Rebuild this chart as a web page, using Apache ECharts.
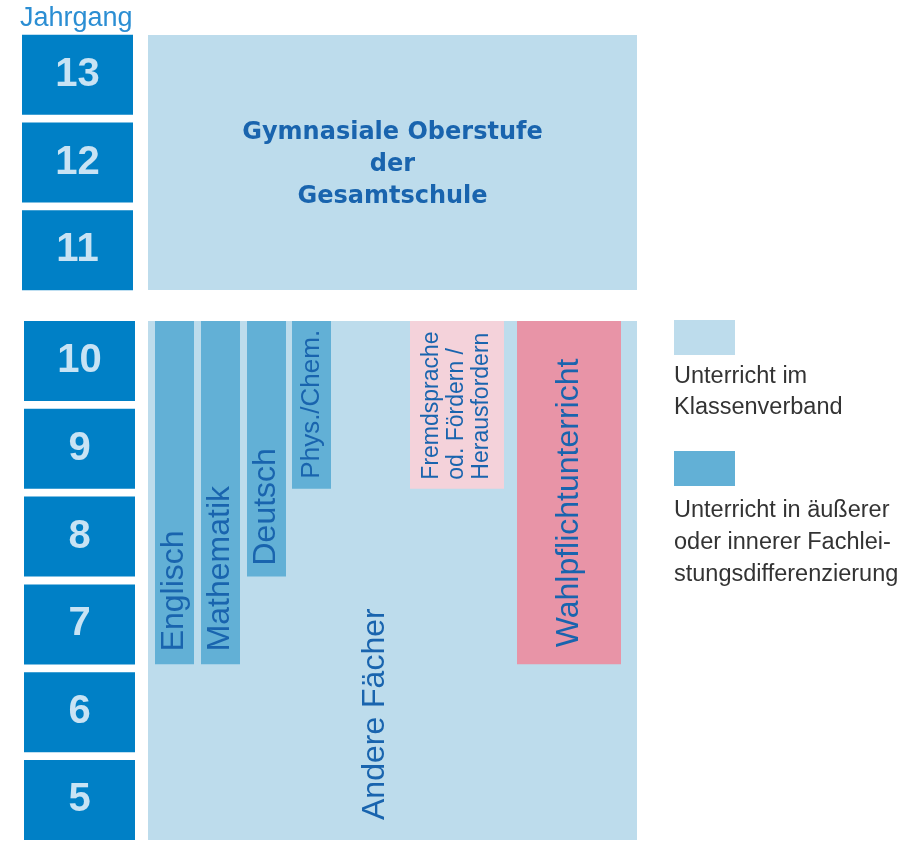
<!DOCTYPE html>
<html>
<head>
<meta charset="utf-8">
<title>Jahrgang</title>
<script src="https://cdn.jsdelivr.net/npm/echarts@6/dist/echarts.min.js"></script>
<style>
  html, body { margin: 0; padding: 0; background: #fff; overflow: hidden; }
  #chart { width: 919px; height: 850px; }
</style>
</head>
<body>
<div id="chart"></div>
<script>
// Jahrgänge (Achsen)
const gradesUpper = ['11', '12', '13'];
const gradesLower = ['5', '6', '7', '8', '9', '10'];

// Klassenverband-Blöcke: von Jahrgang .. bis Jahrgang
const blockNames = ['Gymnasiale Oberstufe\nder\nGesamtschule', 'Andere Fächer'];
const blockFrom = [11, 5];
const blockTo = [13, 10];

// Fächer in der Sek I
const subjects = ['Englisch', 'Mathematik', 'Deutsch', 'Phys./Chem.', 'Fremdsprache\nod. Fördern /\nHerausfordern', 'Wahlpflichtunterricht'];
const subjectFrom = [7, 7, 8, 9, 9, 7];
const subjectTo = [10, 10, 10, 10, 10, 10];
const subjectType = ['diff', 'diff', 'diff', 'diff', 'foerder', 'wahl'];

const legendNames = ['Unterricht im\nKlassenverband', 'Unterricht in äußerer\noder innerer Fachlei-\nstungsdifferenzierung'];

// --- Layout / Stil ---
const C = {
  box: '#0080c6',
  boxText: '#c8e3f4',
  klasse: '#bddcec',
  diff: '#62b0d6',
  foerder: '#f4d2da',
  wahl: '#e894a7',
  text: '#1964ae',
  head: '#2b8ed3',
  legend: '#333333'
};
// Spalten der Fächer in x-Achsen-Einheiten (0..489 = Breite des Blocks)
const colLayout = [[7, 46], [53, 92], [99, 138], [144, 183], [262, 356], [369, 473]];
const labelSize = [32, 32, 32, 26, 23, 32];
const labelPad = [13, 13, 11, 10, 9, 17];
const INSET = 4;
const FONT = '"Liberation Sans", Arial, sans-serif';

function gradeAxis(grades, gridIndex, margin) {
  return {
    type: 'category',
    gridIndex: gridIndex,
    data: grades,
    axisLine: { show: false },
    axisTick: { show: false },
    splitLine: { show: false },
    axisLabel: {
      interval: 0,
      margin: margin,
      formatter: v => '{b|' + v + '}',
      rich: {
        b: {
          width: 111, height: 80, lineHeight: 80, align: 'center',
          backgroundColor: C.box, color: C.boxText,
          fontSize: 40, fontWeight: 'bold', fontFamily: FONT
        }
      }
    }
  };
}

function span(api, grades, from, to) {
  const band = api.size([0, 1])[1];
  const lo = grades.indexOf(String(from));
  const hi = grades.indexOf(String(to));
  return {
    bottom: api.coord([0, lo])[1] + band / 2 - INSET,
    top: api.coord([0, hi])[1] - band / 2 + INSET
  };
}

function renderBlock(i, api) {
  const grades = i === 0 ? gradesUpper : gradesLower;
  const s = span(api, grades, blockFrom[i], blockTo[i]);
  const x0 = api.coord([0, 0])[0];
  const x1 = api.coord([489, 0])[0];
  const rect = {
    type: 'rect',
    shape: { x: x0, y: s.top, width: x1 - x0, height: s.bottom - s.top },
    style: { fill: C.klasse }
  };
  let label;
  if (i === 0) {
    label = {
      type: 'text',
      x: (x0 + x1) / 2, y: (s.top + s.bottom) / 2 + 2,
      style: {
        text: blockNames[i], fill: C.text, font: 'bold 24px "DejaVu Sans", sans-serif',
        align: 'center', verticalAlign: 'middle', lineHeight: 32
      }
    };
  } else {
    label = {
      type: 'text',
      x: api.coord([227, 0])[0], y: s.bottom - 20,
      rotation: Math.PI / 2,
      style: {
        text: blockNames[i], fill: C.text, font: '32px ' + FONT,
        align: 'left', verticalAlign: 'middle'
      }
    };
  }
  return { type: 'group', children: [rect, label] };
}

function renderSubject(params, api) {
  const i = params.dataIndex;
  const s = span(api, gradesLower, subjectFrom[i], subjectTo[i]);
  const x0 = api.coord([colLayout[i][0], 0])[0];
  const x1 = api.coord([colLayout[i][1], 0])[0];
  const t = subjectType[i];
  return {
    type: 'group',
    children: [
      {
        type: 'rect',
        shape: { x: x0, y: s.top, width: x1 - x0, height: s.bottom - s.top },
        style: { fill: C[t] }
      },
      {
        type: 'text',
        x: (x0 + x1) / 2, y: s.bottom - labelPad[i],
        rotation: Math.PI / 2,
        style: {
          text: subjects[i], fill: C.text, font: labelSize[i] + 'px ' + FONT,
          align: 'left', verticalAlign: 'middle', lineHeight: 25
        }
      }
    ]
  };
}

const chart = echarts.init(document.getElementById('chart'));

const option = {
  backgroundColor: '#fff',
  animation: false,
  grid: [
    { left: 148, width: 489, top: 31, height: 263 },
    { left: 148, width: 489, top: 317, height: 527 }
  ],
  xAxis: [
    { type: 'value', gridIndex: 0, min: 0, max: 489, show: false },
    { type: 'value', gridIndex: 1, min: 0, max: 489, show: false }
  ],
  yAxis: [
    gradeAxis(gradesUpper, 0, 15),
    gradeAxis(gradesLower, 1, 13)
  ],
  series: [
    {
      type: 'custom', xAxisIndex: 0, yAxisIndex: 0,
      renderItem: (params, api) => renderBlock(0, api),
      data: [[0, 0]]
    },
    {
      type: 'custom', xAxisIndex: 1, yAxisIndex: 1,
      renderItem: (params, api) => renderBlock(1, api),
      data: [[0, 0]]
    },
    {
      type: 'custom', xAxisIndex: 1, yAxisIndex: 1,
      renderItem: renderSubject,
      data: subjects.map((s, i) => [colLayout[i][0], gradesLower.indexOf(String(subjectFrom[i]))])
    }
  ],
  graphic: [
    {
      type: 'text', left: 20, top: 5,
      style: { text: 'Jahrgang', fill: C.head, font: '27px ' + FONT }
    },
    { type: 'rect', left: 674, top: 320, shape: { width: 61, height: 35 }, style: { fill: C.klasse } },
    {
      type: 'text', left: 674, top: 361,
      style: { text: legendNames[0], fill: C.legend, font: '23.5px ' + FONT, lineHeight: 31 }
    },
    { type: 'rect', left: 674, top: 451, shape: { width: 61, height: 35 }, style: { fill: C.diff } },
    {
      type: 'text', left: 674, top: 495,
      style: { text: legendNames[1], fill: C.legend, font: '23.5px ' + FONT, lineHeight: 32 }
    }
  ]
};

chart.setOption(option);
</script>
</body>
</html>
